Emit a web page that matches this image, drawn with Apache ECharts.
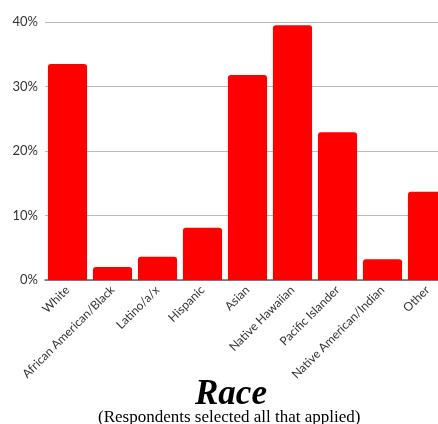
<!DOCTYPE html>
<html>
<head>
<meta charset="utf-8">
<script src="https://cdn.jsdelivr.net/npm/echarts@6/dist/echarts.min.js"></script>
<style>
  html, body { margin: 0; padding: 0; background: #fff; }
  #chart { width: 438px; height: 424px; }
</style>
</head>
<body>
<div id="chart"></div>
<script>
  // race categories and share of respondents (%)
  const categories = ['White', 'African American/Black', 'Latino/a/x', 'Hispanic', 'Asian',
    'Native Hawaiian', 'Pacific Islander', 'Native American/Indian', 'Other']
  const percentage = [33.5, 2.0, 3.6, 8.1, 31.8, 39.5, 22.9, 3.2, 13.7]
  const yTicks = { min: 0, max: 40, interval: 10 }

  const chart = echarts.init(document.getElementById('chart'))

  chart.setOption({
    animation: false,
    title: [{
      text: 'Race',
      left: 190,
      top: 372,
      textStyle: {
        fontFamily: 'Liberation Serif',
        fontStyle: 'italic',
        fontWeight: 'bold',
        fontSize: 35,
        color: '#000'
      }
    }, {
      text: '(Respondents selected all that applied)',
      left: 93,
      top: 404,
      textStyle: {
        fontFamily: 'Liberation Serif',
        fontWeight: 'normal',
        fontSize: 17,
        color: '#000'
      }
    }],
    grid: {
      left: 45,
      top: 22,
      width: 405,
      height: 258,
      containLabel: false,
      outerBoundsMode: 'none'
    },
    xAxis: {
      type: 'category',
      data: categories,
      axisTick: { show: false },
      axisLine: { lineStyle: { color: '#666', width: 1.5 } },
      axisLabel: {
        rotate: 45,
        interval: 0,
        margin: 8,
        color: '#333',
        fontFamily: 'Lato',
        fontSize: 12
      }
    },
    yAxis: {
      type: 'value',
      min: yTicks.min,
      max: yTicks.max,
      interval: yTicks.interval,
      axisLine: { show: false },
      axisTick: { show: false },
      axisLabel: {
        formatter: '{value}%',
        color: '#333',
        fontFamily: 'Lato',
        fontSize: 13,
        margin: 7
      },
      splitLine: { lineStyle: { color: '#bbb', width: 1 } }
    },
    series: [{
      type: 'bar',
      data: percentage,
      barCategoryGap: '13%',
      itemStyle: { color: '#ff0000', borderRadius: [3, 3, 0, 0] }
    }]
  })
</script>
</body>
</html>
